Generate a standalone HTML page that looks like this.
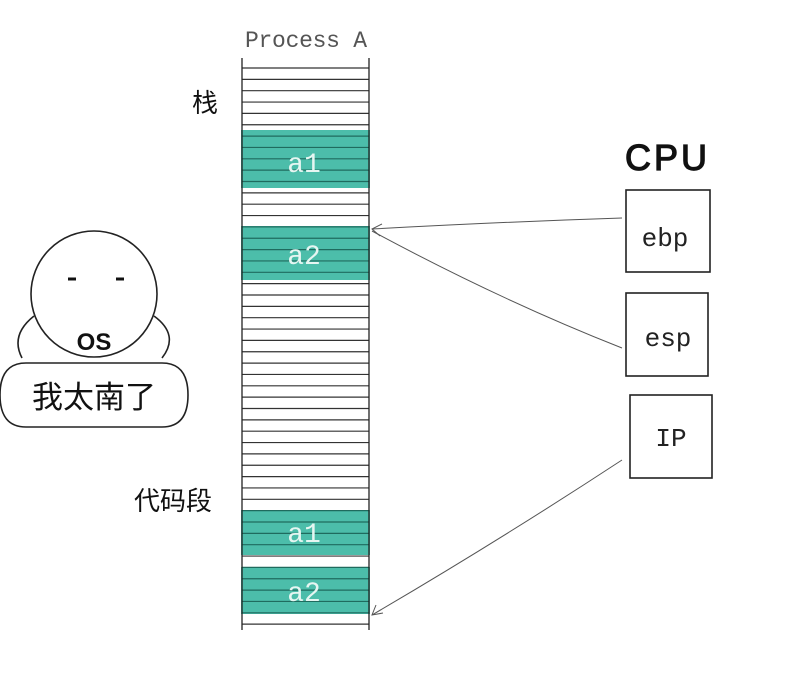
<!DOCTYPE html>
<html><head><meta charset="utf-8"><style>
body{margin:0;background:#fff;width:804px;height:674px;overflow:hidden}
</style></head><body>
<svg id="s" width="804" height="674" xmlns="http://www.w3.org/2000/svg" font-family="Liberation Sans, Noto Sans CJK SC, sans-serif">
<rect width="804" height="674" fill="#fff"/>
<text x="306" y="47" font-family="Liberation Mono, monospace" font-size="23" fill="#555" text-anchor="middle" textLength="122">Process A</text>
<g id="lines" stroke="#333" stroke-width="1.2"></g>
<g fill="#3db8a3" opacity="0.92">
<rect x="241" y="130" width="129" height="58"/>
<rect x="241" y="226" width="129" height="54"/>
<rect x="241" y="510" width="129" height="45"/>
<rect x="241" y="567" width="129" height="47"/>
</g>
<g id="tl" stroke="#1f6b5e" stroke-width="1.2"></g>
<line x1="242" y1="58" x2="242" y2="630" stroke="#222" stroke-width="1.3"/>
<line x1="369" y1="58" x2="369" y2="630" stroke="#222" stroke-width="1.3"/>
<g font-family="Liberation Mono, monospace" font-size="28" fill="#e6f6f2" text-anchor="middle">
<text x="304" y="172">a1</text><text x="304" y="264">a2</text>
<text x="304" y="542">a1</text><text x="304" y="601">a2</text>
</g>
<text x="192" y="112" font-size="26" fill="#111">栈</text>
<text x="134" y="510" font-size="26" fill="#111">代码段</text>
<text x="625" y="170" font-size="36" fill="#111" stroke="#111" stroke-width="1.2" letter-spacing="3">CPU</text>
<g fill="none" stroke="#222" stroke-width="1.6">
<rect x="626" y="190" width="84" height="82"/>
<rect x="626" y="293" width="82" height="83"/>
<rect x="630" y="395" width="82" height="83"/>
</g>
<g font-family="Liberation Mono, monospace" font-size="26" fill="#222" text-anchor="middle">
<text x="665" y="246">ebp</text><text x="668" y="346">esp</text><text x="671" y="446">IP</text>
</g>
<g fill="none" stroke="#555" stroke-width="1">
<path d="M622 218 Q500 222 372 229"/>
<path d="M622 348 Q500 300 372 231"/>
<path d="M622 460 Q500 540 372 615"/>
<path d="M382 224 L372 229 L380 236"/>
<path d="M376 605 L372 615 L383 613"/>
</g>
<g fill="none" stroke="#222" stroke-width="1.6">
<circle cx="94" cy="294" r="63"/>
<path d="M34 316 Q10 335 22 358 M154 316 Q180 335 162 358"/>
<path d="M26 363 L162 363 Q188 363 188 395 Q188 427 162 427 L26 427 Q0 427 0 395 Q0 363 26 363 Z"/>
</g>
<g stroke="#111" stroke-width="3"><line x1="68" y1="279" x2="76" y2="279"/><line x1="116" y1="279" x2="124" y2="279"/></g>
<text x="94" y="350" font-size="24" font-weight="bold" fill="#111" text-anchor="middle">OS</text>
<text x="94" y="408" font-size="31" fill="#111" text-anchor="middle">我太南了</text>
</svg>
<script>
var g=document.getElementById('lines'),t=document.getElementById('tl'),n='http://www.w3.org/2000/svg';
for(var y=68;y<628;y+=11.35){var l=document.createElementNS(n,'line');l.setAttribute('x1',242);l.setAttribute('x2',369);l.setAttribute('y1',y);l.setAttribute('y2',y);
var inT=(y>130&&y<188)||(y>226&&y<280)||(y>510&&y<555)||(y>567&&y<614);(inT?t:g).appendChild(l);}
</script>
</body></html>
